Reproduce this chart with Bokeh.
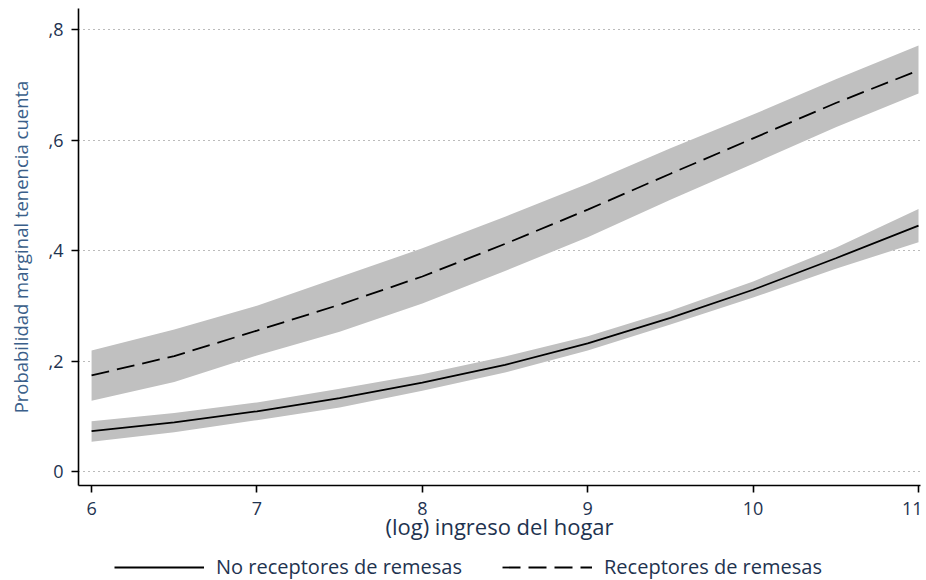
from bokeh.plotting import figure
from bokeh.layouts import column
from bokeh.models import (ColumnDataSource, Range1d, FixedTicker, Legend, LegendItem)
from bokeh.embed import file_html
from bokeh.resources import INLINE

# ---- data ----
income = [6.0, 6.5, 7.0, 7.5, 8.0, 8.5, 9.0, 9.5, 10.0, 10.5, 11.0]

no_rec = [0.073, 0.089, 0.109, 0.133, 0.161, 0.193, 0.232, 0.278, 0.329, 0.386, 0.445]
no_rec_lo = [0.054, 0.071, 0.093, 0.116, 0.146, 0.179, 0.219, 0.266, 0.315, 0.367, 0.415]
no_rec_hi = [0.091, 0.106, 0.125, 0.150, 0.176, 0.208, 0.245, 0.291, 0.344, 0.405, 0.475]

rec = [0.174, 0.209, 0.255, 0.302, 0.353, 0.412, 0.474, 0.539, 0.603, 0.667, 0.726]
rec_lo = [0.128, 0.162, 0.210, 0.253, 0.304, 0.363, 0.424, 0.492, 0.557, 0.623, 0.684]
rec_hi = [0.219, 0.257, 0.300, 0.352, 0.404, 0.461, 0.521, 0.585, 0.646, 0.710, 0.771]

x_ticks = [6, 7, 8, 9, 10, 11]
y_ticks = [0.0, 0.2, 0.4, 0.6, 0.8]
y_tick_labels = ["0", ",2", ",4", ",6", ",8"]

series_labels = ["No receptores de remesas", "Receptores de remesas"]
x_title = "(log) ingreso del hogar"
y_title = "Probabilidad marginal tenencia cuenta"

# ---- styles ----
FONT = "Open Sans"
NAVY = "#1e3350"
YLAB = "#3b5f8a"
BAND = "#c0c0c0"
DASH = "18 8"
LW = 1.8

src = ColumnDataSource(dict(x=income, a=no_rec, alo=no_rec_lo, ahi=no_rec_hi,
                            b=rec, blo=rec_lo, bhi=rec_hi))

p = figure(width=922, height=552, output_backend="svg", toolbar_location=None,
           x_range=Range1d(5.921, 11.012), y_range=Range1d(-0.0253, 0.838),
           min_border_left=78, min_border_right=2, min_border_top=8, min_border_bottom=67)
p.outline_line_color = None
p.background_fill_color = "white"
p.border_fill_color = "white"

p.varea(x="x", y1="blo", y2="bhi", source=src, fill_color=BAND, fill_alpha=1.0)
p.varea(x="x", y1="alo", y2="ahi", source=src, fill_color=BAND, fill_alpha=1.0)
p.line(x="x", y="a", source=src, line_color="black", line_width=LW)
p.line(x="x", y="b", source=src, line_color="black", line_width=LW, line_dash=DASH)

# axes
p.xaxis.ticker = FixedTicker(ticks=x_ticks)
p.yaxis.ticker = FixedTicker(ticks=y_ticks)
p.yaxis.major_label_overrides = {t: l for t, l in zip(y_ticks, y_tick_labels)}
p.xaxis.axis_label = x_title
p.yaxis.axis_label = y_title

for ax in (p.xaxis, p.yaxis):
    ax.axis_line_color = "black"
    ax.axis_line_width = 1.6
    ax.major_tick_line_color = "black"
    ax.major_tick_line_width = 1.6
    ax.major_tick_out = 7
    ax.major_tick_in = 0
    ax.minor_tick_line_color = None
    ax.major_label_text_font = FONT
    ax.major_label_text_color = NAVY
    ax.major_label_text_font_size = "18px"
    ax.axis_label_text_font = FONT
    ax.axis_label_text_font_style = "normal"

p.xaxis.axis_label_text_color = NAVY
p.xaxis.axis_label_text_font_size = "22px"
p.xaxis.axis_label_standoff = -7
p.xaxis.major_label_standoff = 9
p.yaxis.axis_label_text_color = YLAB
p.yaxis.axis_label_text_font_size = "18.5px"
p.yaxis.axis_label_standoff = 13
p.yaxis.major_label_standoff = 8
p.yaxis.major_label_orientation = "horizontal"

p.xgrid.grid_line_color = None
p.ygrid.ticker = FixedTicker(ticks=y_ticks)
p.ygrid.grid_line_color = "#777777"
p.ygrid.grid_line_width = 1
p.ygrid.grid_line_dash = "1 4"

# ---- legend strip below the chart ----
lg = figure(width=922, height=28, output_backend="svg", toolbar_location=None,
            x_range=Range1d(0, 1), y_range=Range1d(0, 1),
            min_border_left=0, min_border_right=0, min_border_top=0, min_border_bottom=0)
lg.axis.visible = False
lg.grid.grid_line_color = None
lg.outline_line_color = None
# off-range stand-in renderers that only supply the legend's line styles
k1 = lg.line(x=[-10, -9], y=[-10, -10], line_color="black", line_width=LW)
k2 = lg.line(x=[-10, -9], y=[-10, -10], line_color="black", line_width=LW, line_dash=DASH)

legend = Legend(items=[LegendItem(label=series_labels[0], renderers=[k1]),
                       LegendItem(label=series_labels[1], renderers=[k2])],
                orientation="horizontal", location=(36, 0))
legend.label_text_font = FONT
legend.label_text_font_size = "20px"
legend.label_text_color = NAVY
legend.glyph_width = 90
legend.glyph_height = 20
legend.label_standoff = 12
legend.spacing = 40
legend.border_line_color = None
legend.background_fill_alpha = 0
legend.padding = 0
legend.margin = 0
lg.add_layout(legend, "center")

layout = column(p, lg, spacing=0)
open("out.html", "w").write(file_html(layout, INLINE))
